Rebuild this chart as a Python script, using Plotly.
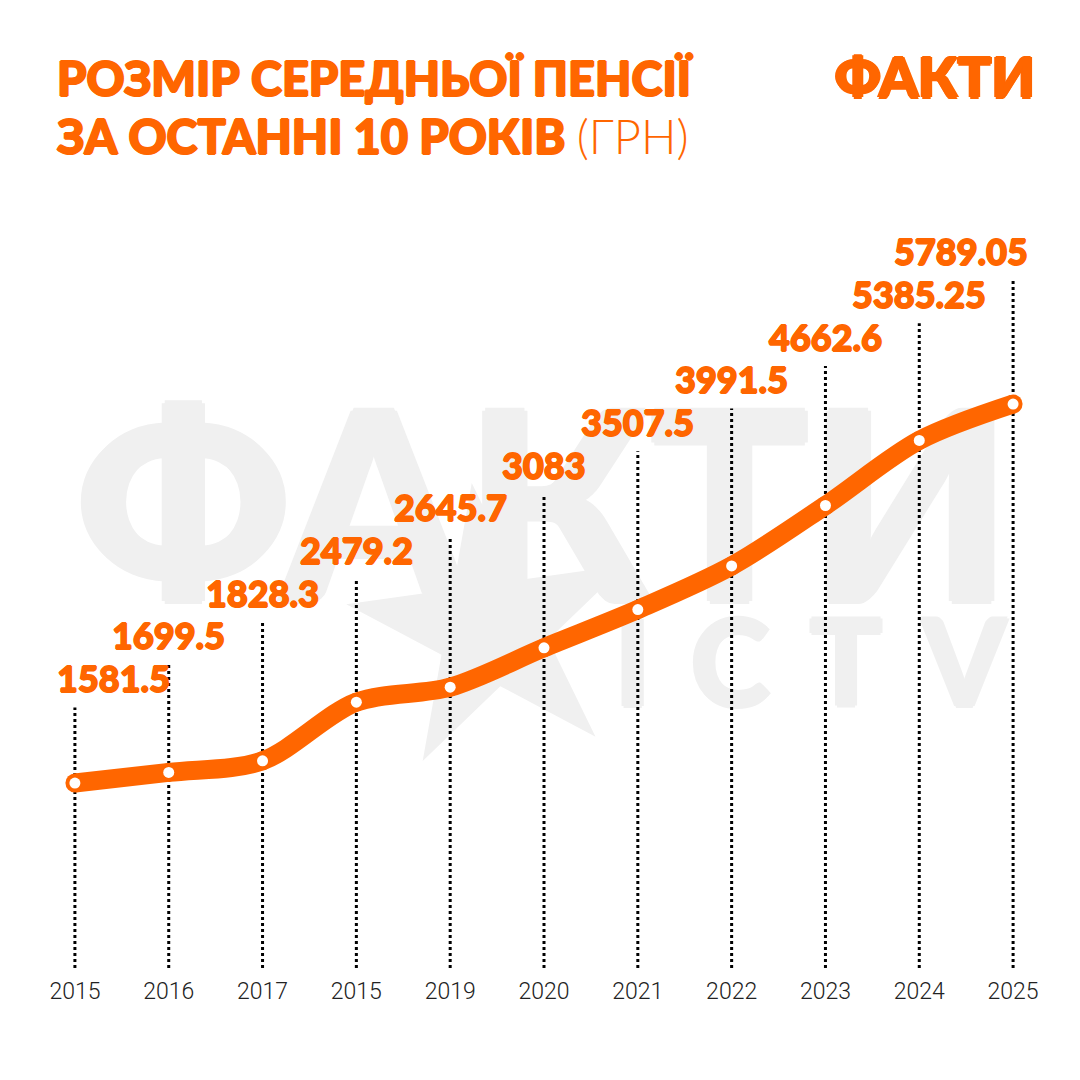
import plotly.graph_objects as go

# data
years = ['2015', '2016', '2017', '2015', '2019', '2020', '2021', '2022', '2023', '2024', '2025']
pension = [1581.5, 1699.5, 1828.3, 2479.2, 2645.7, 3083, 3507.5, 3991.5, 4662.6, 5385.25, 5789.05]
value_text = ['1581.5', '1699.5', '1828.3', '2479.2', '2645.7', '3083', '3507.5',
              '3991.5', '4662.6', '5385.25', '5789.05']

ORANGE = '#FF6600'
GREY_WM = '#F0F0F0'
HEAVY = 'Lato'


def fat(c, w=0.8):
    # thicken the bold face a little with a text shadow
    return ', '.join(f'{dx}px {dy}px 0 {c}' for dx, dy in [(w, 0), (-w, 0), (0, w), (0, -w)])


x = list(range(len(years)))

# axis range (value units)
y_lo, y_hi = -472, 7721
# staggered labels: each one a step higher than the previous
lab0, lab_step = 2480, 474
label_y = [lab0 + i * lab_step for i in x]

fig = go.Figure()

# watermark (behind everything)
fig.add_trace(go.Scatter(
    x=[5.0], y=[4330], mode='text', text=['ФАКТИ'],
    textfont=dict(family=HEAVY, size=262, color=GREY_WM, weight=900, shadow=fat(GREY_WM, 3)),
    hoverinfo='skip', showlegend=False, cliponaxis=False))
fig.add_trace(go.Scatter(
    x=[7.84], y=[2770], mode='text', text=['I\u2004C\u2004T\u2004V'],
    textfont=dict(family=HEAVY, size=120, color=GREY_WM, weight=900, shadow=fat(GREY_WM, 2)),
    hoverinfo='skip', showlegend=False, cliponaxis=False))
fig.add_trace(go.Scatter(
    x=[4.45], y=[3280], mode='markers',
    marker=dict(symbol='star', size=212, color=GREY_WM, angle=-8, line=dict(width=0)),
    hoverinfo='skip', showlegend=False, cliponaxis=False))

# dotted guides from each label down to the axis
gx, gy = [], []
for i in x:
    gx += [i, i, None]
    gy += [y_lo, label_y[i] - 60, None]
fig.add_trace(go.Scatter(
    x=gx, y=gy, mode='lines',
    line=dict(color='#000000', width=3, dash='3px,3px'),
    hoverinfo='skip', showlegend=False))

# main line
fig.add_trace(go.Scatter(
    x=x, y=pension, mode='markers',
    marker=dict(size=19, color=ORANGE, line=dict(width=0)),
    hoverinfo='skip', showlegend=False, cliponaxis=False))
fig.add_trace(go.Scatter(
    x=x, y=pension, mode='lines+markers',
    line=dict(color=ORANGE, width=19, shape='spline', smoothing=0.9),
    marker=dict(size=11, color='white', line=dict(width=0)),
    showlegend=False, cliponaxis=False))

# value labels
for i, (v, t) in enumerate(zip(pension, value_text)):
    anchor, shift = 'center', 0
    if i == 0:
        anchor, shift = 'left', -20
    elif i == len(x) - 1:
        anchor, shift = 'right', 17
    fig.add_annotation(
        x=i, y=label_y[i], text=t, showarrow=False,
        xanchor=anchor, yanchor='bottom', xshift=shift,
        font=dict(family=HEAVY, size=36, color=ORANGE, weight=900, shadow=fat(ORANGE)))

# title + logo
fig.add_annotation(
    xref='paper', yref='paper', x=0.026, y=1.247, xanchor='left', yanchor='top',
    text='РОЗМІР СЕРЕДНЬОЇ ПЕНСІЇ', showarrow=False,
    font=dict(family=HEAVY, size=47, color=ORANGE, weight=900, shadow=fat(ORANGE, 1)))
fig.add_annotation(
    xref='paper', yref='paper', x=0.026, y=1.168, xanchor='left', yanchor='top',
    text="ЗА ОСТАННІ 10 РОКІВ <span style='font-weight:300;text-shadow:none'>(ГРН)</span>",
    showarrow=False,
    font=dict(family=HEAVY, size=47, color=ORANGE, weight=900, shadow=fat(ORANGE, 1)))
fig.add_annotation(
    xref='paper', yref='paper', x=0.978, y=1.257, xanchor='right', yanchor='top',
    text='ФАКТИ', showarrow=False,
    font=dict(family=HEAVY, size=56, color=ORANGE, weight=900, shadow=fat(ORANGE, 1.5)))

fig.update_layout(
    width=1080, height=1080,
    margin=dict(l=20, r=28, t=222, b=120),
    paper_bgcolor='white', plot_bgcolor='white',
    xaxis=dict(range=[-0.5, 10.5], tickvals=x, ticktext=years, showgrid=False,
               zeroline=False, showline=False, ticks='', ticklabelstandoff=7,
               tickfont=dict(family='Roboto', size=23, color='#222222', weight=300)),
    yaxis=dict(range=[y_lo, y_hi], visible=False, showgrid=False, zeroline=False),
)

fig.write_html('out.html')
